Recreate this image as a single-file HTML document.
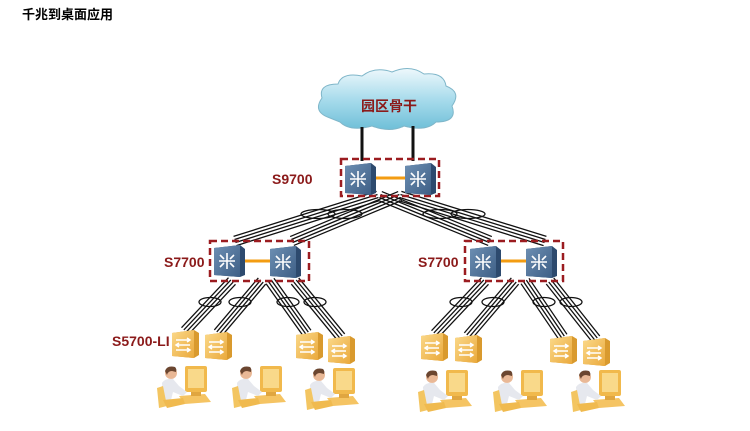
<!DOCTYPE html>
<html><head><meta charset="utf-8"><style>
html,body{margin:0;padding:0;background:#fff;width:750px;height:431px;overflow:hidden}
svg{display:block}
.t{font-family:"Liberation Sans","Noto Sans CJK SC",sans-serif;font-weight:bold}
</style></head><body>
<svg id="s" width="750" height="431" viewBox="0 0 750 431" xmlns="http://www.w3.org/2000/svg">
<defs>
<linearGradient id="cg" x1="0" y1="0" x2="0" y2="1"><stop offset="0" stop-color="#eef8fc"/><stop offset="0.5" stop-color="#a9dcec"/><stop offset="1" stop-color="#6fbfd8"/></linearGradient>
<linearGradient id="bg" x1="0" y1="0" x2="1" y2="1"><stop offset="0" stop-color="#6d8fb3"/><stop offset="1" stop-color="#3e5f86"/></linearGradient>
<linearGradient id="og" x1="0" y1="0" x2="1" y2="1"><stop offset="0" stop-color="#fbd98a"/><stop offset="1" stop-color="#eaa93c"/></linearGradient>
<g id="core">
<path d="M0 3 L26 0 L31 4 L31 30 L26 32 L0 30 Z" fill="#2d4a6e"/>
<path d="M0 3 L26 0 L26 32 L0 30 Z" fill="url(#bg)"/>
<g stroke="#fff" stroke-width="1.6" fill="none"><path d="M5 16 H21 M13 8 V24 M6 10 L10 14 M20 10 L16 14 M6 22 L10 18 M20 22 L16 18"/></g>
</g>
<g id="acc">
<path d="M0 3 L22 0 L27 3 L27 25 L22 28 L0 26 Z" fill="#d99a2e"/>
<path d="M0 3 L22 0 L22 28 L0 26 Z" fill="url(#og)"/>
<g stroke="#fff" stroke-width="1.5" fill="none"><path d="M4 10 H18 M15 8 L18 10 L15 12 M18 15 H4 M7 13 L4 15 L7 17 M4 20 H18 M15 18 L18 20 L15 22"/></g>
</g>
<g id="pc">
<rect x="28" y="0" width="22" height="26" rx="2" fill="#f1b94c"/>
<rect x="31" y="3" width="16" height="19" fill="#f9d98a"/>
<path d="M22 30 L48 28 L54 36 L28 38 Z" fill="#f5c463"/>
<rect x="34" y="26" width="10" height="4" fill="#e0a640"/>
<circle cx="14" cy="7" r="6" fill="#e9b896"/>
<path d="M8 5 Q10 -1 18 1 Q20 3 19 6 L15 5 Q11 5 10 9 Z" fill="#6b4630"/>
<path d="M5 17 Q8 12 16 13 L22 20 L30 26 L26 30 L16 26 L14 34 L6 34 Z" fill="#e6e8ee"/>
<path d="M0 22 L6 20 L10 40 L2 42 Z" fill="#f3c561"/>
<path d="M6 34 L26 32 L28 38 L10 42 Z" fill="#f0ba4f"/>
</g>
</defs>
<text class="t" x="22" y="19" font-size="13" fill="#000">千兆到桌面应用</text>
<g fill="url(#cg)" stroke="#7fb6c9" stroke-width="1">
<path d="M330 118 Q312 112 322 98 Q318 84 338 84 Q342 72 362 76 Q375 66 392 72 Q410 64 424 74 Q444 72 446 86 Q462 92 452 106 Q458 122 436 122 Q426 132 404 126 Q390 133 372 126 Q350 132 340 122 Z"/>
</g>
<text class="t" x="389" y="111" font-size="14" fill="#8b1a1a" text-anchor="middle">园区骨干</text>
<g stroke="#111" stroke-width="3"><line x1="362" y1="127" x2="362" y2="161"/><line x1="413" y1="126" x2="413" y2="161"/></g>
<g id="links"></g>
<g fill="none" stroke="#9b1c20" stroke-width="2.5" stroke-dasharray="7,4">
<rect x="341" y="159" width="98" height="37"/>
<rect x="210" y="241" width="99" height="40"/>
<rect x="465" y="241" width="98" height="40"/>
</g>
<g stroke="#f39c12" stroke-width="3"><line x1="374" y1="178" x2="406" y2="178"/><line x1="244" y1="261" x2="271" y2="261"/><line x1="499" y1="261" x2="526" y2="261"/></g>
<use href="#core" x="345" y="163"/>
<use href="#core" x="405" y="163"/>
<use href="#core" x="214" y="245"/>
<use href="#core" x="270" y="246"/>
<use href="#core" x="470" y="246"/>
<use href="#core" x="526" y="246"/>
<text class="t" x="272" y="184" font-size="14" fill="#8b1a1a">S9700</text>
<text class="t" x="164" y="267" font-size="14" fill="#8b1a1a">S7700</text>
<text class="t" x="418" y="267" font-size="14" fill="#8b1a1a">S7700</text>
<text class="t" x="112" y="346" font-size="14" fill="#8b1a1a">S5700-LI</text>
<use href="#acc" x="172" y="330"/>
<use href="#acc" x="205" y="332"/>
<use href="#acc" x="296" y="332"/>
<use href="#acc" x="328" y="336"/>
<use href="#acc" x="421" y="333"/>
<use href="#acc" x="455" y="335"/>
<use href="#acc" x="550" y="336"/>
<use href="#acc" x="583" y="338"/>
<use href="#pc" x="157" y="366"/>
<use href="#pc" x="232" y="366"/>
<use href="#pc" x="305" y="368"/>
<use href="#pc" x="418" y="370"/>
<use href="#pc" x="493" y="370"/>
<use href="#pc" x="571" y="370"/>
</svg>
<script>
var g=document.getElementById('links'),NS='http://www.w3.org/2000/svg';
function el(n,a){var e=document.createElementNS(NS,n);for(var k in a)e.setAttribute(k,a[k]);g.appendChild(e);}
function bundle(x1,y1,x2,y2,ex,ey,rx){
 var dx=x2-x1,dy=y2-y1,L=Math.sqrt(dx*dx+dy*dy),px=-dy/L,py=dx/L;
 for(var i=0;i<4;i++){var o=(i-1.5)*3.2;el('line',{x1:x1+px*o,y1:y1+py*o,x2:x2+px*o,y2:y2+py*o,stroke:'#111','stroke-width':1.3});}
 el('ellipse',{cx:ex,cy:ey,rx:rx,ry:4.5,fill:'none',stroke:'#111','stroke-width':1.3});
}
bundle(378,196,235,241,318,214,17);
bundle(400,196,292,241,345,214,17);
bundle(380,196,490,241,440,214,17);
bundle(400,196,545,241,468,214,17);
bundle(232,281,185,331,210,302,11);
bundle(262,281,218,333,240,302,11);
bundle(270,281,307,333,288,302,11);
bundle(295,281,341,337,315,302,11);
bundle(485,281,435,334,461,302,11);
bundle(515,281,468,336,493,302,11);
bundle(525,281,563,337,544,302,11);
bundle(550,281,596,339,571,302,11);
</script>
</body></html>
